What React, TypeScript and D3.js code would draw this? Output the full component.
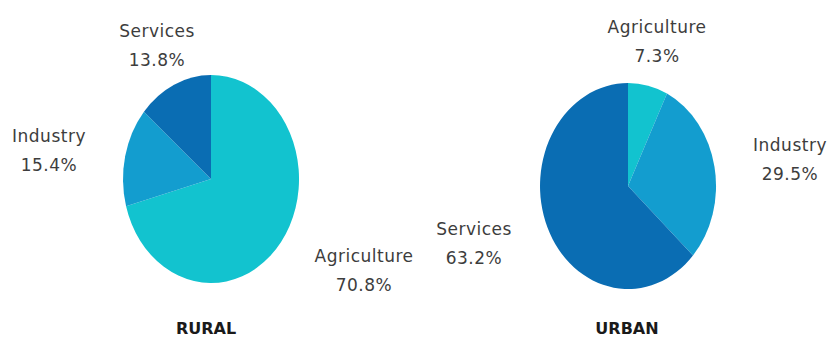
import React from "react";
import * as d3 from "d3";

const sectors = ["Agriculture", "Industry", "Services"];
const ruralValues = [70.8, 15.4, 13.8];
const urbanValues = [7.3, 29.5, 63.2];
const pieTitles = ["RURAL", "URBAN"];
const sectorColors = ["#12C3CF", "#139DCF", "#0A6DB3"];

// layout (not data)
const W = 827;
const H = 338;
const pieLayout = [
  { cx: 211, cy: 179, rx: 88, ry: 104, titleX: 206, titleY: 334 },
  { cx: 628, cy: 186, rx: 88, ry: 103, titleX: 627, titleY: 334 },
];
const labelLayout = [
  [
    { x: 364, y: 262 },
    { x: 49, y: 142 },
    { x: 157, y: 37 },
  ],
  [
    { x: 657, y: 33 },
    { x: 790, y: 151 },
    { x: 474, y: 235 },
  ],
];

const fmt = (v: number) => `${v.toFixed(1)}%`;

function Pie({ values, idx }: { values: number[]; idx: number }) {
  const L = pieLayout[idx];
  const pie = d3
    .pie<number>()
    .sort(null)
    .value((d) => d)
    .startAngle(0)
    .endAngle(2 * Math.PI);
  const arc = d3.arc<d3.PieArcDatum<number>>().innerRadius(0).outerRadius(1);
  const arcs = pie(values);
  return (
    <g>
      <g transform={`translate(${L.cx},${L.cy}) scale(${L.rx},${L.ry})`}>
        {arcs.map((a, i) => (
          <path key={i} d={arc(a) || ""} fill={sectorColors[i]} />
        ))}
      </g>
      {arcs.map((a, i) => {
        const p = labelLayout[idx][i];
        return (
          <text
            key={"l" + i}
            x={p.x}
            y={p.y}
            textAnchor="middle"
            fontFamily="'DejaVu Sans', sans-serif"
            fontSize={17}
            letterSpacing={0.5}
            fill="#3d3d3d"
          >
            <tspan x={p.x}>{sectors[i]}</tspan>
            <tspan x={p.x} dy={29}>
              {fmt(values[i])}
            </tspan>
          </text>
        );
      })}
      <text
        x={L.titleX}
        y={L.titleY}
        textAnchor="middle"
        fontFamily="'DejaVu Sans', sans-serif"
        fontWeight={700}
        fontSize={16}
        fill="#1a1a1a"
      >
        {pieTitles[idx]}
      </text>
    </g>
  );
}

export default function App() {
  return (
    <svg
      width={W}
      height={H}
      style={{ position: "absolute", left: 0, top: 0, background: "#fff" }}
    >
      <Pie values={ruralValues} idx={0} />
      <Pie values={urbanValues} idx={1} />
    </svg>
  );
}
